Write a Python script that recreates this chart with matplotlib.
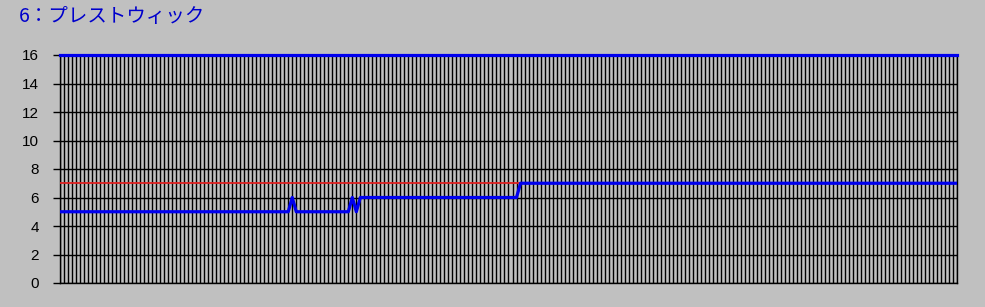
import matplotlib.pyplot as plt
import matplotlib.ticker as ticker
import numpy as np

plt.rcParams['font.family'] = ['Noto Sans CJK JP', 'DejaVu Sans']

# 225 time slots, value steps
n_points = 225
level_runs = [(5, 58), (6, 1), (5, 14), (6, 1), (5, 1), (6, 40), (7, 110)]
upper_limit = 16
target = 7

title = "6：プレストウィック"
yticks = [0, 2, 4, 6, 8, 10, 12, 14, 16]

values = []
for v, count in level_runs:
    values += [v] * count
x = np.arange(n_points)

fig = plt.figure(figsize=(9.85, 3.07), dpi=100, facecolor='#c0c0c0')
ax = fig.add_axes([60/985, 24/307, 897/985, 228/307])
ax.set_facecolor('#c0c0c0')

ax.plot(x, [target] * n_points, color='#dd2020', lw=1.3, zorder=3)
ax.plot(x, [upper_limit] * n_points, color='#0000ee', lw=2.3, zorder=4, clip_on=False)
ax.plot(x, values, color='#0000ee', lw=2.3, zorder=4)

ax.set_xlim(0, n_points - 1)
ax.set_ylim(0, 16)
ax.set_yticks(yticks)
ax.xaxis.set_major_locator(ticker.MultipleLocator(1))
ax.xaxis.set_major_formatter(ticker.NullFormatter())
ax.tick_params(axis='x', length=0)
ax.tick_params(axis='y', length=5, width=1, color='black', pad=10)
for lbl in ax.get_yticklabels():
    lbl.set_fontfamily('Liberation Sans')
    lbl.set_fontsize(11)
ax.grid(True, color='black', lw=1.0)
for s in ax.spines.values():
    s.set_color('black')
    s.set_linewidth(1.0)

fig.text(19/985, 1 - 17/307, title, color='#0000cc', fontsize=14,
         va='center', ha='left')

plt.savefig("out.png", dpi=100, facecolor=fig.get_facecolor())
